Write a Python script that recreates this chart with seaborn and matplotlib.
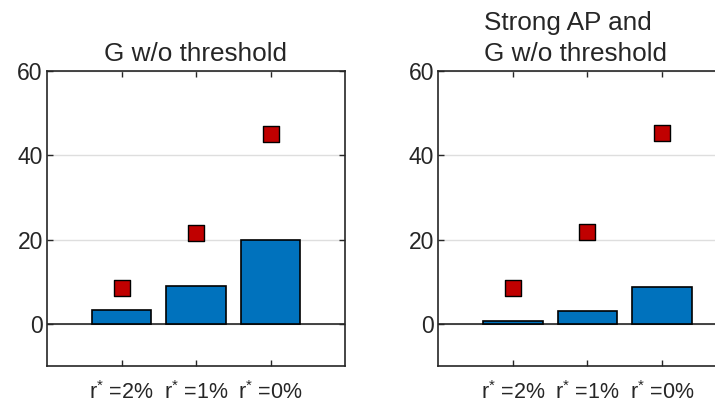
import matplotlib
matplotlib.use("Agg")
import matplotlib.pyplot as plt
import seaborn as sns
import pandas as pd

# Scenario labels and values
categories = ["r$^{*}$ =2%", "r$^{*}$ =1%", "r$^{*}$ =0%"]
bars_no_threshold = [3.2, 8.9, 20.0]
bars_strong_ap = [0.7, 3.0, 8.8]
markers_no_threshold = [8.5, 21.6, 45.1]
markers_strong_ap = [8.5, 21.7, 45.2]
titles = ["G w/o threshold", "Strong AP and\nG w/o threshold"]
yticks = [0, 20, 40, 60]

sns.set_theme(style="white")
plt.rcParams["font.family"] = ["Liberation Sans", "DejaVu Sans"]
plt.rcParams["mathtext.fontset"] = "custom"
plt.rcParams["mathtext.rm"] = "Liberation Sans"
plt.rcParams["mathtext.it"] = "Liberation Sans"
plt.rcParams["mathtext.default"] = "regular"

INK = "#262626"
BAR_BLUE = "#0072BD"
MARK_RED = "#C00000"

fig = plt.figure(figsize=(7.15, 4.07), dpi=100)
W, H = 715.0, 407.0
ax1 = fig.add_axes([47 / W, (H - 366) / H, 298 / W, 295 / H])
ax2 = fig.add_axes([438.3 / W, (H - 366) / H, 298 / W, 295 / H])

panels = [
    (ax1, bars_no_threshold, markers_no_threshold, titles[0], 0.5),
    (ax2, bars_strong_ap, markers_strong_ap, titles[1], 0.459),
]

for ax, bars, marks, title, tx in panels:
    df = pd.DataFrame({"scenario": categories, "bar": bars, "mark": marks})
    ax.yaxis.grid(True, color="#dedede", linewidth=1.0)
    ax.set_axisbelow(True)
    ax.axhline(0, color=INK, linewidth=1.2, zorder=1)
    sns.barplot(data=df, x="scenario", y="bar", order=categories, ax=ax,
                color=BAR_BLUE, saturation=1, width=0.8,
                edgecolor="black", linewidth=1.2, zorder=2)
    sns.stripplot(data=df, x="scenario", y="mark", order=categories, ax=ax,
                  jitter=False, marker="s", size=11, color=MARK_RED,
                  edgecolor="black", linewidth=1.0, zorder=3)
    ax.set_xlim(-1, 3)
    ax.set_ylim(-10, 60)
    ax.set_yticks(yticks)
    ax.set_yticklabels([str(v) for v in yticks])
    ax.set_xlabel("")
    ax.set_ylabel("")
    ax.tick_params(axis="both", direction="in", length=4, width=1.0,
                   color=INK, labelcolor=INK,
                   top=True, right=True, bottom=True, left=True)
    ax.tick_params(axis="y", pad=3, labelsize=16.5)
    ax.tick_params(axis="x", pad=11, labelsize=15.5)
    for sp in ax.spines.values():
        sp.set_visible(True)
        sp.set_color(INK)
        sp.set_linewidth(1.2)
    ax.set_title(title, fontsize=18.8, color=INK, x=tx, pad=7,
                 multialignment="left", linespacing=1.4)

fig.savefig("out.png", dpi=100)
